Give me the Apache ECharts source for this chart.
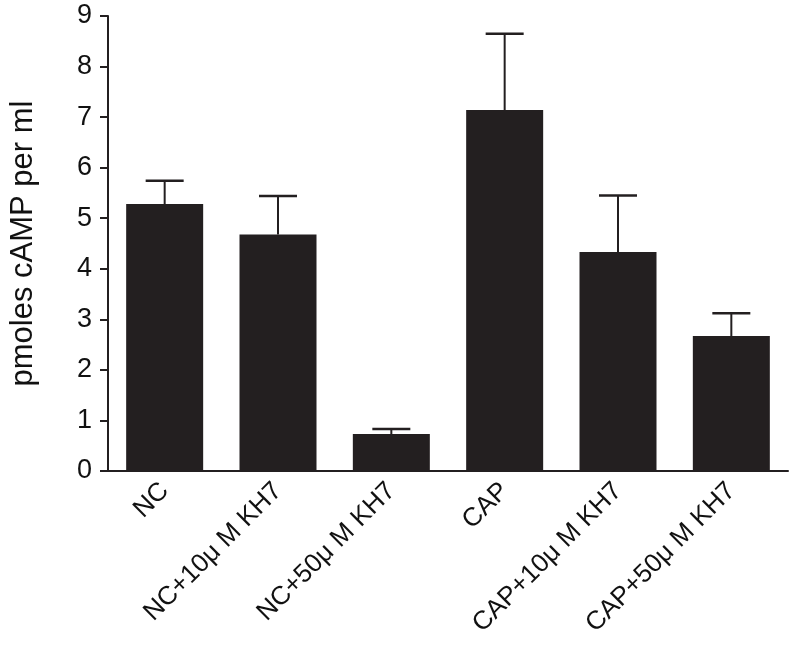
<!DOCTYPE html>
<html>
<head>
    <meta charset="UTF-8"/>
    <title>cAMP</title>
    <script type="text/javascript" src="https://cdn.jsdelivr.net/npm/echarts@6/dist/echarts.min.js"></script>
</head>
<body style="margin:0;background:#fff;">

<div id="main" style="width: 800px;height:650px;"></div>

<script type="text/javascript">
    var categories = ['NC', 'NC+10\u03bc M KH7', 'NC+50\u03bc M KH7', 'CAP', 'CAP+10\u03bc M KH7', 'CAP+50\u03bc M KH7'];
    var means = [5.28, 4.68, 0.73, 7.14, 4.33, 2.67];
    var upper = [5.74, 5.44, 0.83, 8.65, 5.45, 3.12];
    var yTicks = [0, 1, 2, 3, 4, 5, 6, 7, 8, 9];

    var myChart = echarts.init(document.getElementById('main'));

    var errData = categories.map(function (c, i) {
        return [i, means[i], upper[i]];
    });

    var option = {
        animation: false,
        grid: {left: 107, right: 12, top: 16, bottom: 179},
        xAxis: {
            type: 'category',
            data: categories,
            boundaryGap: true,
            axisLine: {lineStyle: {color: '#231f20', width: 2}},
            axisTick: {show: false},
            axisLabel: {
                rotate: 45,
                margin: 16,
                fontSize: 26,
                fontFamily: 'Liberation Sans',
                color: '#111',
                interval: 0
            }
        },
        yAxis: {
            type: 'value',
            min: 0,
            max: 9,
            interval: 1,
            name: 'pmoles cAMP per ml',
            nameLocation: 'middle',
            nameGap: 69,
            nameTextStyle: {fontSize: 31, fontFamily: 'Liberation Sans', color: '#111'},
            splitLine: {show: false},
            axisLine: {show: true, lineStyle: {color: '#231f20', width: 2}},
            axisTick: {show: true, length: 8, lineStyle: {color: '#231f20', width: 2}},
            axisLabel: {
                fontSize: 27,
                fontFamily: 'Liberation Sans',
                color: '#111',
                margin: 16,
                formatter: function (v) { return yTicks.indexOf(v) >= 0 ? String(v) : ''; }
            }
        },
        series: [{
            name: 'mean',
            type: 'bar',
            data: means,
            barWidth: 77,
            itemStyle: {color: '#231f20'},
            z: 3
        }, {
            name: 'err',
            type: 'custom',
            data: errData,
            z: 2,
            renderItem: function (params, api) {
                var i = api.value(0);
                var base = api.coord([i, api.value(1)]);
                var top = api.coord([i, api.value(2)]);
                var hw = 19;
                return {
                    type: 'group',
                    children: [{
                        type: 'line',
                        shape: {x1: base[0], y1: base[1], x2: top[0], y2: top[1]},
                        style: {stroke: '#231f20', lineWidth: 2}
                    }, {
                        type: 'line',
                        shape: {x1: top[0] - hw, y1: top[1], x2: top[0] + hw, y2: top[1]},
                        style: {stroke: '#231f20', lineWidth: 2.5}
                    }]
                };
            }
        }]
    };
    myChart.setOption(option);
</script>
</body>
</html>
